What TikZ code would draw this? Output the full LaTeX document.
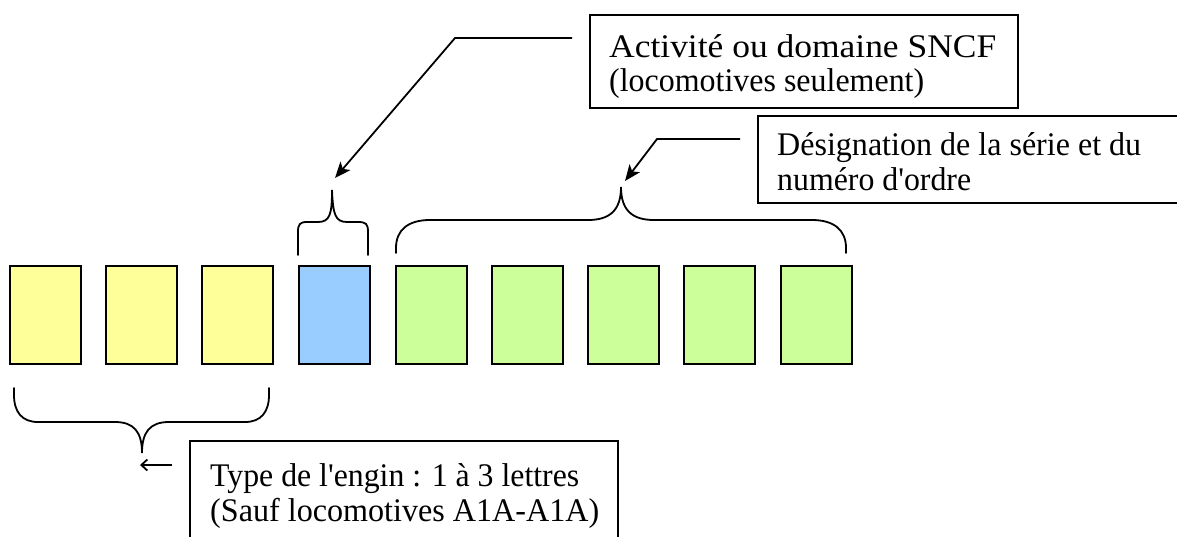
\documentclass[tikz,border=0pt]{standalone}
\usepackage{fontspec}
\usepackage{graphicx}
\setmainfont{Liberation Serif}[Ligatures=TeXOff]
\usetikzlibrary{arrows.meta}
\definecolor{cyel}{HTML}{FFFF99}
\definecolor{cblu}{HTML}{99CCFF}
\definecolor{cgrn}{HTML}{CCFF99}
\newcommand\fitw[2]{\resizebox{#1}{\height}{#2}}
\begin{document}
\begin{tikzpicture}[x=1pt,y=-1pt,
  cell/.style={draw=black,line width=2.2pt,minimum width=71pt,minimum height=98pt,anchor=north west,inner sep=0pt},
  callout/.style={draw=black,line width=1.8pt,anchor=north west,inner sep=0pt,fill=white},
  txt/.style={anchor=base west,inner sep=0pt,font=\fontsize{33}{35}\selectfont},
  brace/.style={line width=1.8pt,line cap=round},
  lead/.style={line width=1.8pt,-{Stealth[length=16pt,width=13pt,inset=4pt]}},
  shortlead/.style={line width=1.8pt,-{Straight Barb[length=6pt,width=11pt,line width=1.8pt]}}]
\useasboundingbox (0,0) rectangle (1177,536);
% cells
\node[cell,fill=cyel] (b1) at (9,265) {};
\node[cell,fill=cyel] (b2) at (105,265) {};
\node[cell,fill=cyel] (b3) at (201,265) {};
\node[cell,fill=cblu] (b4) at (298,265) {};
\node[cell,fill=cgrn] (b5) at (395,265) {};
\node[cell,fill=cgrn] (b6) at (491,265) {};
\node[cell,fill=cgrn] (b7) at (587,265) {};
\node[cell,fill=cgrn] (b8) at (683,265) {};
\node[cell,fill=cgrn] (b9) at (780,265) {};
% callouts
\node[callout,minimum width=428pt,minimum height=93pt] (c1) at (589,14) {};
\node[txt] (c1a) at (609,57) {\fitw{387pt}{Activité ou domaine SNCF}};
\node[txt] (c1b) at (609,91) {\fitw{315pt}{(locomotives seulement)}};
\node[callout,minimum width=440pt,minimum height=87pt] (c2) at (757,115) {};
\node[txt] (c2a) at (777,155) {\fitw{364pt}{Désignation de la série et du}};
\node[txt] (c2b) at (777,190) {\fitw{194pt}{numéro d'ordre}};
\node[callout,minimum width=428pt,minimum height=120pt] (c3) at (189,440) {};
\node[txt] (c3a) at (210,486) {\fitw{369pt}{Type de l'engin : 1 à 3 lettres}};
\node[txt] (c3b) at (210,521) {\fitw{389pt}{(Sauf locomotives A1A-A1A)}};
% braces
\coordinate (t1) at (332,190);
\draw[brace] (298,255) -- (298,232) .. controls (298,224) and (300,222) .. (307,222) -- (318,222) .. controls (330,222) and (332,214) .. (t1)
  .. controls (333,214) and (335,222) .. (347,222) -- (358,222) .. controls (366,222) and (368,224) .. (368,232) -- (368,255);
\coordinate (t2) at (621,187);
\draw[brace] (396,253) -- (396,248) .. controls (396,230) and (408,220) .. (430,220) -- (588,220) .. controls (610,220) and (621,210) .. (t2)
  .. controls (621,210) and (632,220) .. (654,220) -- (812,220) .. controls (834,220) and (846,230) .. (846,248) -- (846,253);
\coordinate (t3) at (142,453);
\draw[brace] (14,388) -- (14,395) .. controls (14,412) and (22,422) .. (38,422) -- (115,422) .. controls (134,422) and (142,432) .. (t3)
  .. controls (142,432) and (150,422) .. (169,422) -- (245,422) .. controls (261,422) and (269,412) .. (269,395) -- (269,388);
% leaders
\coordinate (s1) at (572,38);
\coordinate (k1) at (455,38);
\coordinate (e1) at (335,178);
\draw[lead] (s1) -- (k1) -- (e1);
\coordinate (s2) at (740,139);
\coordinate (k2) at (657,139);
\coordinate (e2) at (625,181);
\draw[lead] (s2) -- (k2) -- (e2);
\coordinate (s3) at (172,465);
\coordinate (e3) at (140,465);
\draw[shortlead] (s3) -- (e3);
\end{tikzpicture}
\end{document}
